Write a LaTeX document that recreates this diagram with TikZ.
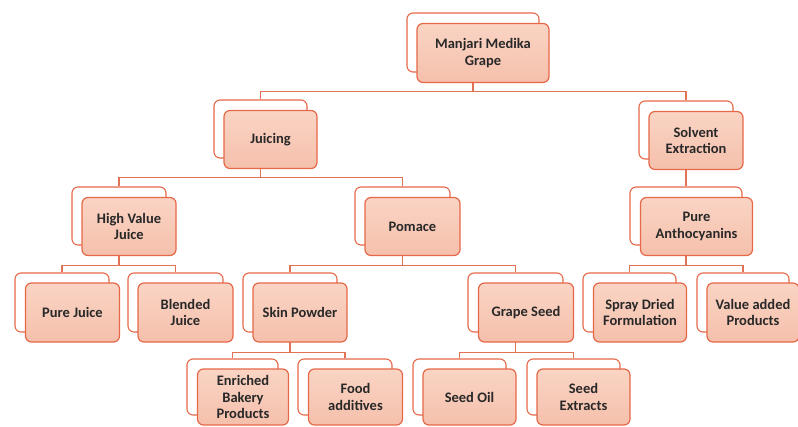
\documentclass[tikz,border=0pt]{standalone}
\usepackage{fontspec}
\setmainfont{Carlito}
\usetikzlibrary{backgrounds}
\definecolor{edgeorange}{RGB}{230,104,72}
\definecolor{linkorange}{RGB}{226,114,84}
\definecolor{boxtop}{RGB}{250,212,196}
\definecolor{boxbot}{RGB}{245,192,172}
\definecolor{labelgray}{RGB}{40,40,40}

\begin{document}
\begin{tikzpicture}[x=1pt, y=-1pt, font=\bfseries\fontsize{14.5}{16.5}\selectfont,
    backbox/.style = {draw=edgeorange, line width=1.1pt, fill=white, rounded corners=6pt, minimum height=59pt},
    frontbox/.style = {draw=edgeorange, line width=1.2pt, top color=boxtop, bottom color=boxbot, rounded corners=6pt, minimum height=59pt, align=center, text=labelgray},
    link/.style = {draw=linkorange, line width=1.1pt}]
    \useasboundingbox (0,0) rectangle (798,426);
    % level 0
    \node[backbox, minimum width=132pt] (mb) at (473,42.5) {};
    \node[frontbox, minimum width=132pt] (m) at (483,53) {Manjari Medika\\Grape};
    % level 1
    \node[backbox, minimum width=93pt, minimum height=58pt] (jb) at (260.5,129) {};
    \node[frontbox, minimum width=93pt, minimum height=58pt] (j) at (270.5,139.5) {Juicing};
    \node[backbox, minimum width=94pt, minimum height=58pt] (sb) at (686,130) {};
    \node[frontbox, minimum width=94pt, minimum height=58pt] (s) at (696,140.5) {Solvent\\Extraction};
    % level 2
    \node[backbox, minimum width=94pt, minimum height=58pt] (hb) at (119,216) {};
    \node[frontbox, minimum width=94pt, minimum height=58pt] (h) at (129,226.5) {High Value\\Juice};
    \node[backbox, minimum width=95pt, minimum height=58pt] (pmb) at (402.5,216) {};
    \node[frontbox, minimum width=95pt, minimum height=58pt] (pm) at (412.5,226.5) {Pomace};
    \node[backbox, minimum width=112pt, minimum height=58pt] (pab) at (686,216) {};
    \node[frontbox, minimum width=112pt, minimum height=58pt] (pa) at (696.5,226.5) {Pure\\Anthocyanins};
    % level 3
    \node[backbox, minimum width=94pt] (pjb) at (62,302.5) {};
    \node[frontbox, minimum width=94pt] (pj) at (72.5,312.5) {Pure Juice};
    \node[backbox, minimum width=95pt] (bjb) at (175.5,302.5) {};
    \node[frontbox, minimum width=95pt] (bj) at (185.5,312.5) {Blended\\Juice};
    \node[backbox, minimum width=94pt] (spb) at (290,302.5) {};
    \node[frontbox, minimum width=94pt] (sp) at (300,312.5) {Skin Powder};
    \node[backbox, minimum width=95pt] (gsb) at (515.5,302.5) {};
    \node[frontbox, minimum width=95pt] (gs) at (526,312.5) {Grape Seed};
    \node[backbox, minimum width=93pt] (sdb) at (629.5,302.5) {};
    \node[frontbox, minimum width=93pt] (sd) at (640,312.5) {Spray Dried\\Formulation};
    \node[backbox, minimum width=92pt] (vab) at (743,302.5) {};
    \node[frontbox, minimum width=92pt] (va) at (753,312.5) {Value added\\Products};
    % level 4
    \node[backbox, minimum width=91pt, minimum height=56pt] (ebb) at (232.5,387) {};
    \node[frontbox, minimum width=91pt, minimum height=56pt] (eb) at (243,397) {Enriched\\Bakery\\Products};
    \node[backbox, minimum width=94pt, minimum height=56pt] (fab) at (345,387) {};
    \node[frontbox, minimum width=94pt, minimum height=56pt] (fa) at (355.5,397) {Food\\additives};
    \node[backbox, minimum width=93pt, minimum height=56pt] (sob) at (459.5,387) {};
    \node[frontbox, minimum width=93pt, minimum height=56pt] (so) at (469.5,397) {Seed Oil};
    \node[backbox, minimum width=93pt, minimum height=56pt] (seb) at (573.5,387) {};
    \node[frontbox, minimum width=93pt, minimum height=56pt] (se) at (583.5,397) {Seed\\Extracts};
    % connectors
    \begin{scope}[on background layer]
        \draw[link] (mb.south) -- ++(0,19) -| (jb.north);
        \draw[link] (mb.south) -- ++(0,19) -| (sb.north);
        \draw[link] (jb.south) -- ++(0,19) -| (hb.north);
        \draw[link] (jb.south) -- ++(0,19) -| (pmb.north);
        \draw[link] (sb.south) -- (pab.north);
        \draw[link] (hb.south) -- ++(0,20) -| (pjb.north);
        \draw[link] (hb.south) -- ++(0,20) -| (bjb.north);
        \draw[link] (pmb.south) -- ++(0,20) -| (spb.north);
        \draw[link] (pmb.south) -- ++(0,20) -| (gsb.north);
        \draw[link] (pab.south) -- ++(0,20) -| (sdb.north);
        \draw[link] (pab.south) -- ++(0,20) -| (vab.north);
        \draw[link] (spb.south) -- ++(0,20) -| (ebb.north);
        \draw[link] (spb.south) -- ++(0,20) -| (fab.north);
        \draw[link] (gsb.south) -- ++(0,20) -| (sob.north);
        \draw[link] (gsb.south) -- ++(0,20) -| (seb.north);
    \end{scope}
\end{tikzpicture}
\end{document}
